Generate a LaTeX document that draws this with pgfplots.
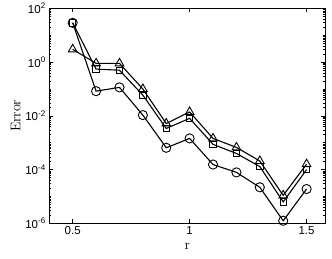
\documentclass[border=0pt]{standalone}
\usepackage{fontspec}
\setsansfont{Liberation Sans}
\usepackage{pgfplots}
\pgfplotsset{compat=1.18}

\begin{document}
\begin{tikzpicture}
\begin{axis}[
  at={(0,0)}, anchor=south west,
  scale only axis, width=276pt, height=215pt,
  ymode=log,
  xmin=0.4, xmax=1.58, ymin=1e-6, ymax=1e2,
  xtick={0.5,1,1.5}, xticklabels={0.5,1,1.5},
  ytick={1e-6,1e-4,1e-2,1e0,1e2},
  yticklabels={10\textsuperscript{-6},10\textsuperscript{-4},10\textsuperscript{-2},10\textsuperscript{0},10\textsuperscript{2}},
  minor ytick={2e-6,3e-6,4e-6,5e-6,6e-6,7e-6,8e-6,9e-6,
    1e-5,2e-5,3e-5,4e-5,5e-5,6e-5,7e-5,8e-5,9e-5,
    2e-4,3e-4,4e-4,5e-4,6e-4,7e-4,8e-4,9e-4,
    1e-3,2e-3,3e-3,4e-3,5e-3,6e-3,7e-3,8e-3,9e-3,
    2e-2,3e-2,4e-2,5e-2,6e-2,7e-2,8e-2,9e-2,
    1e-1,2e-1,3e-1,4e-1,5e-1,6e-1,7e-1,8e-1,9e-1,
    2,3,4,5,6,7,8,9,10,20,30,40,50,60,70,80,90},
  tick align=inside, major tick length=4pt, minor tick length=2pt,
  every tick/.style={black, line width=0.6pt},
  axis line style={line width=1pt},
  tick label style={font=\sffamily\fontsize{11.5}{13}\selectfont},
  xlabel={r}, ylabel={Error},
  label style={font=\fontsize{14}{16}\selectfont},
  xlabel style={yshift=-1pt}, ylabel style={yshift=-2pt},
  clip=false,
  every axis plot/.append style={black, line width=1.1pt, mark options={solid, line width=0.9pt, fill=none}},
]
\addplot[mark=triangle, mark size=5pt] coordinates {
 (0.5,3.0) (0.6,0.9) (0.7,0.9) (0.8,0.1) (0.9,5.2e-3) (1.0,1.4e-2)
 (1.1,1.45e-3) (1.2,6.7e-4) (1.3,2.1e-4) (1.4,1.1e-5) (1.5,1.6e-4)};
\addplot[mark=square, mark size=3.2pt] coordinates {
 (0.5,29) (0.6,0.55) (0.7,0.5) (0.8,5.9e-2) (0.9,3.4e-3) (1.0,8.1e-3)
 (1.1,8.7e-4) (1.2,4.0e-4) (1.3,1.3e-4) (1.4,6.3e-6) (1.5,1.0e-4)};
\addplot[mark=o, mark size=4.6pt] coordinates {
 (0.5,29) (0.6,8.3e-2) (0.7,0.115) (0.8,1.07e-2) (0.9,6.5e-4) (1.0,1.45e-3)
 (1.1,1.55e-4) (1.2,7.9e-5) (1.3,2.2e-5) (1.4,1.25e-6) (1.5,1.9e-5)};
\end{axis}
\useasboundingbox (-49.3pt,-35.3pt) rectangle (282.7pt,221.7pt);
\end{tikzpicture}
\end{document}
